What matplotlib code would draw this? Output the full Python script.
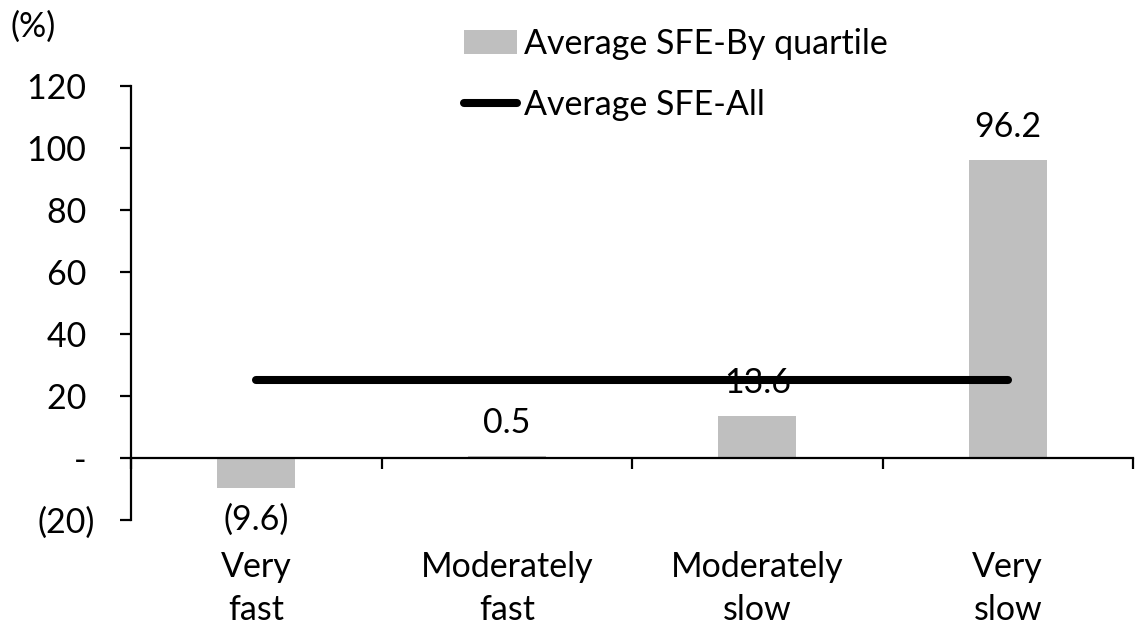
import matplotlib
matplotlib.use("Agg")
import matplotlib.pyplot as plt
import matplotlib.transforms as mtransforms
from matplotlib.patches import Patch
from matplotlib.lines import Line2D

plt.rcParams['font.family'] = ['Lato', 'DejaVu Sans']

categories = ["Very\nfast", "Moderately\nfast", "Moderately\nslow", "Very\nslow"]
sfe_by_quartile = [-9.6, 0.5, 13.6, 96.2]
sfe_all = [25.2, 25.2, 25.2, 25.2]
y_ticks = [-20, 0, 20, 40, 60, 80, 100, 120]

FS = 24.5
BAR_GREY = "#BFBFBF"


def fmt_value(v):
    # accounting style: negatives in parentheses
    return f"({-v:.1f})" if v < 0 else f"{v:.1f}"


def fmt_tick(v):
    if v < 0:
        return f"({-v:.0f})"
    if v == 0:
        return "- "
    return f"{v:.0f} "


fig = plt.figure(figsize=(11.36, 6.29), dpi=100)
ax = fig.add_axes([131 / 1136, 1 - 520 / 629, (1133 - 131) / 1136, (520 - 86) / 629])

x = list(range(len(categories)))
ax.bar(x, sfe_by_quartile, width=0.31, color=BAR_GREY, zorder=2)
ax.plot(x, sfe_all, color="black", linewidth=5.8, solid_capstyle="round", zorder=3)

# value labels above / below each bar
for xi, v in zip(x, sfe_by_quartile):
    off = 33 if v >= 0 else -32
    ax.annotate(fmt_value(v), (xi, v), xytext=(0, off), textcoords="offset pixels",
                ha="center", va="center", fontsize=FS, zorder=4)

ax.set_xlim(-0.5, 3.5)
ax.set_ylim(-20, 120)

ax.spines["top"].set_visible(False)
ax.spines["right"].set_visible(False)
ax.spines["bottom"].set_position(("data", 0))
for s in ("left", "bottom"):
    ax.spines[s].set_linewidth(1.6)

ax.set_yticks(y_ticks)
ax.set_yticklabels([fmt_tick(v) for v in y_ticks])
ax.tick_params(axis="y", direction="out", length=8, width=1.6, pad=18, labelsize=FS)

ax.set_xticks([-0.5, 0.5, 1.5, 2.5, 3.5])
ax.set_xticklabels([])
ax.tick_params(axis="x", direction="out", length=8, width=1.6)

# category names under the plot area
trans = mtransforms.blended_transform_factory(ax.transData, ax.transAxes)
for xi, name in zip(x, categories):
    ax.text(xi, -0.157, name, transform=trans, ha="center", va="center",
            fontsize=FS, linespacing=1.42)

fig.text(10 / 1136, 1 - 27 / 629, "(%)", ha="left", va="center", fontsize=FS)

handles = [Patch(facecolor=BAR_GREY, edgecolor="none"),
           Line2D([], [], color="black", linewidth=5.8, solid_capstyle="round")]
fig.legend(handles, ["Average SFE-By quartile", "Average SFE-All"],
           loc="upper left", bbox_to_anchor=(464 / 1136, 1 - 28 / 629),
           frameon=False, fontsize=FS, handlelength=1.55, handletextpad=0.2,
           labelspacing=0.85, borderpad=0, borderaxespad=0)

fig.savefig("out.png", dpi=100)
